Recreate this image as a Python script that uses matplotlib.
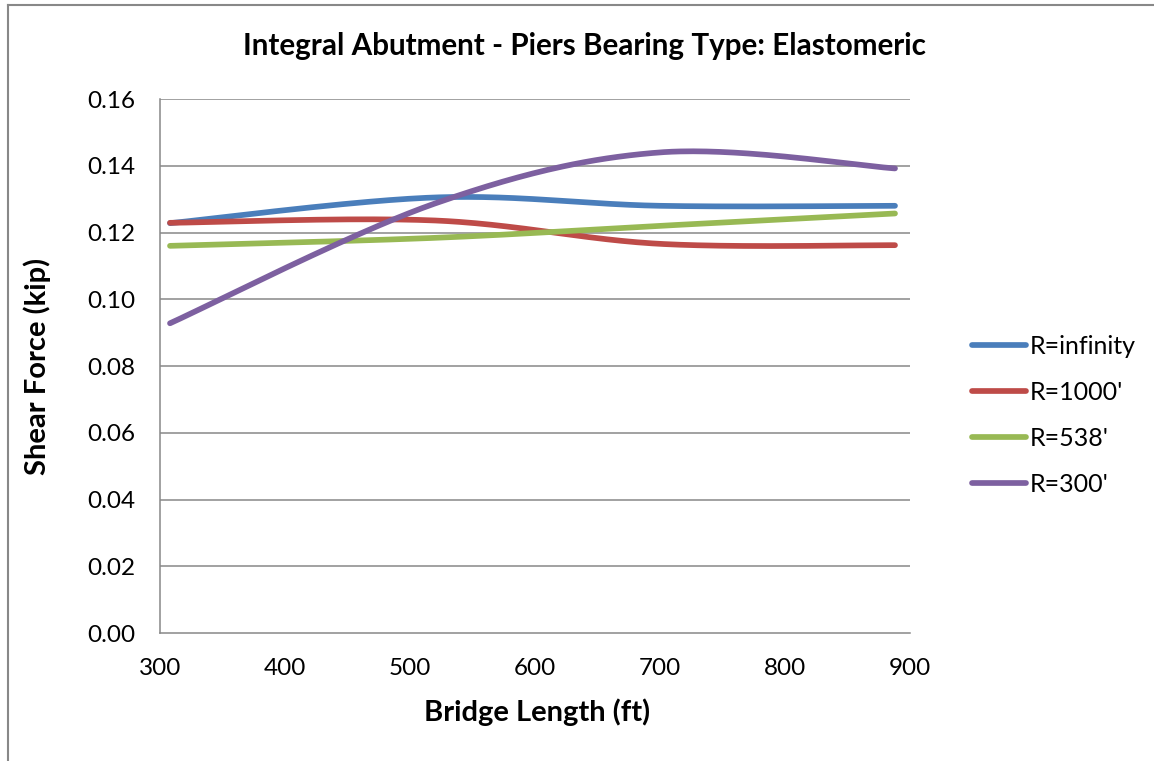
import numpy as np
import matplotlib
matplotlib.use("Agg")
import matplotlib.pyplot as plt
from matplotlib.lines import Line2D

# ---- data ----
bridge_length = [308, 520, 700, 888]
r_infinity = [0.1228, 0.1305, 0.1280, 0.1280]
r_1000 = [0.1229, 0.1236, 0.1166, 0.1162]
r_538 = [0.1160, 0.1184, 0.1220, 0.1257]
r_300 = [0.0928, 0.1287, 0.1440, 0.1392]
series_names = ["R=infinity", "R=1000'", "R=538'", "R=300'"]
series_colors = ["#4A7EBB", "#BE4B48", "#98B954", "#7D60A0"]
x_ticks = [300, 400, 500, 600, 700, 800, 900]
y_ticks = [0.00, 0.02, 0.04, 0.06, 0.08, 0.10, 0.12, 0.14, 0.16]

title = "Integral Abutment - Piers Bearing Type: Elastomeric"
xlabel = "Bridge Length (ft)"
ylabel = "Shear Force (kip)"


def smooth(xs, ys, n=60):
    """Excel-like smoothed line: cubic Bezier segments (Catmull-Rom, tension 1/6)."""
    P = np.column_stack([xs, ys]).astype(float)
    m = len(P)
    out = []
    for i in range(m - 1):
        p0 = P[i - 1] if i > 0 else P[i]
        p1 = P[i]
        p2 = P[i + 1]
        p3 = P[i + 2] if i + 2 < m else P[i + 1]
        c1 = p1 + (p2 - p0) / 6.0
        c2 = p2 - (p3 - p1) / 6.0
        t = np.linspace(0, 1, n)[:, None]
        seg = ((1 - t) ** 3) * p1 + 3 * ((1 - t) ** 2) * t * c1 + 3 * (1 - t) * t ** 2 * c2 + t ** 3 * p2
        out.append(seg if i == 0 else seg[1:])
    arr = np.vstack(out)
    return arr[:, 0], arr[:, 1]


plt.rcParams['font.family'] = ['Lato', 'DejaVu Sans']

W, H = 1154, 761
fig = plt.figure(figsize=(W / 100, H / 100), dpi=100)
ax = fig.add_axes([160 / W, 1 - 633 / H, 750 / W, 534 / H])

grid_color = "#888888"
for yv in y_ticks[1:]:
    ax.axhline(yv, color=grid_color, lw=1.1, zorder=1)

for ys, name, col in zip([r_infinity, r_1000, r_538, r_300], series_names, series_colors):
    sx, sy = smooth(bridge_length, ys)
    ax.plot(sx, sy, color=col, lw=4.1, solid_capstyle='round', label=name, zorder=3)

ax.set_xlim(300, 900)
ax.set_ylim(0, 0.16)
ax.set_xticks(x_ticks)
ax.set_yticks(y_ticks)
ax.set_xticklabels([str(v) for v in x_ticks])
ax.set_yticklabels([f"{v:.2f}" for v in y_ticks])
ax.tick_params(length=0, labelsize=17.5, colors="black")
ax.tick_params(axis='x', pad=18)
ax.tick_params(axis='y', pad=18)
for s in ["top", "right"]:
    ax.spines[s].set_visible(False)
for s in ["left", "bottom"]:
    ax.spines[s].set_color(grid_color)
    ax.spines[s].set_linewidth(1.1)

fig.text(584 / W, 1 - 46 / H, title, ha='center', va='center', fontsize=21.3, fontweight='bold')
fig.text(537 / W, 1 - 712 / H, xlabel, ha='center', va='center', fontsize=21, fontweight='bold')
fig.text(37 / W, 1 - 366 / H, ylabel, ha='center', va='center', fontsize=21, fontweight='bold', rotation=90)

leg = ax.legend(loc='center left', bbox_to_anchor=(972 / W, 1 - 415.5 / H), bbox_transform=fig.transFigure,
                frameon=False, fontsize=18, handlelength=2.16, handletextpad=0.15, labelspacing=0.92,
                borderpad=0, borderaxespad=0)

# outer chart border (left and top visible)
fig.add_artist(Line2D([8 / W, 8 / W], [0, 1 - 5 / H], color=grid_color, lw=1.5, transform=fig.transFigure))
fig.add_artist(Line2D([8 / W, 1], [1 - 5 / H, 1 - 5 / H], color=grid_color, lw=1.5, transform=fig.transFigure))

fig.savefig("out.png", dpi=100)
